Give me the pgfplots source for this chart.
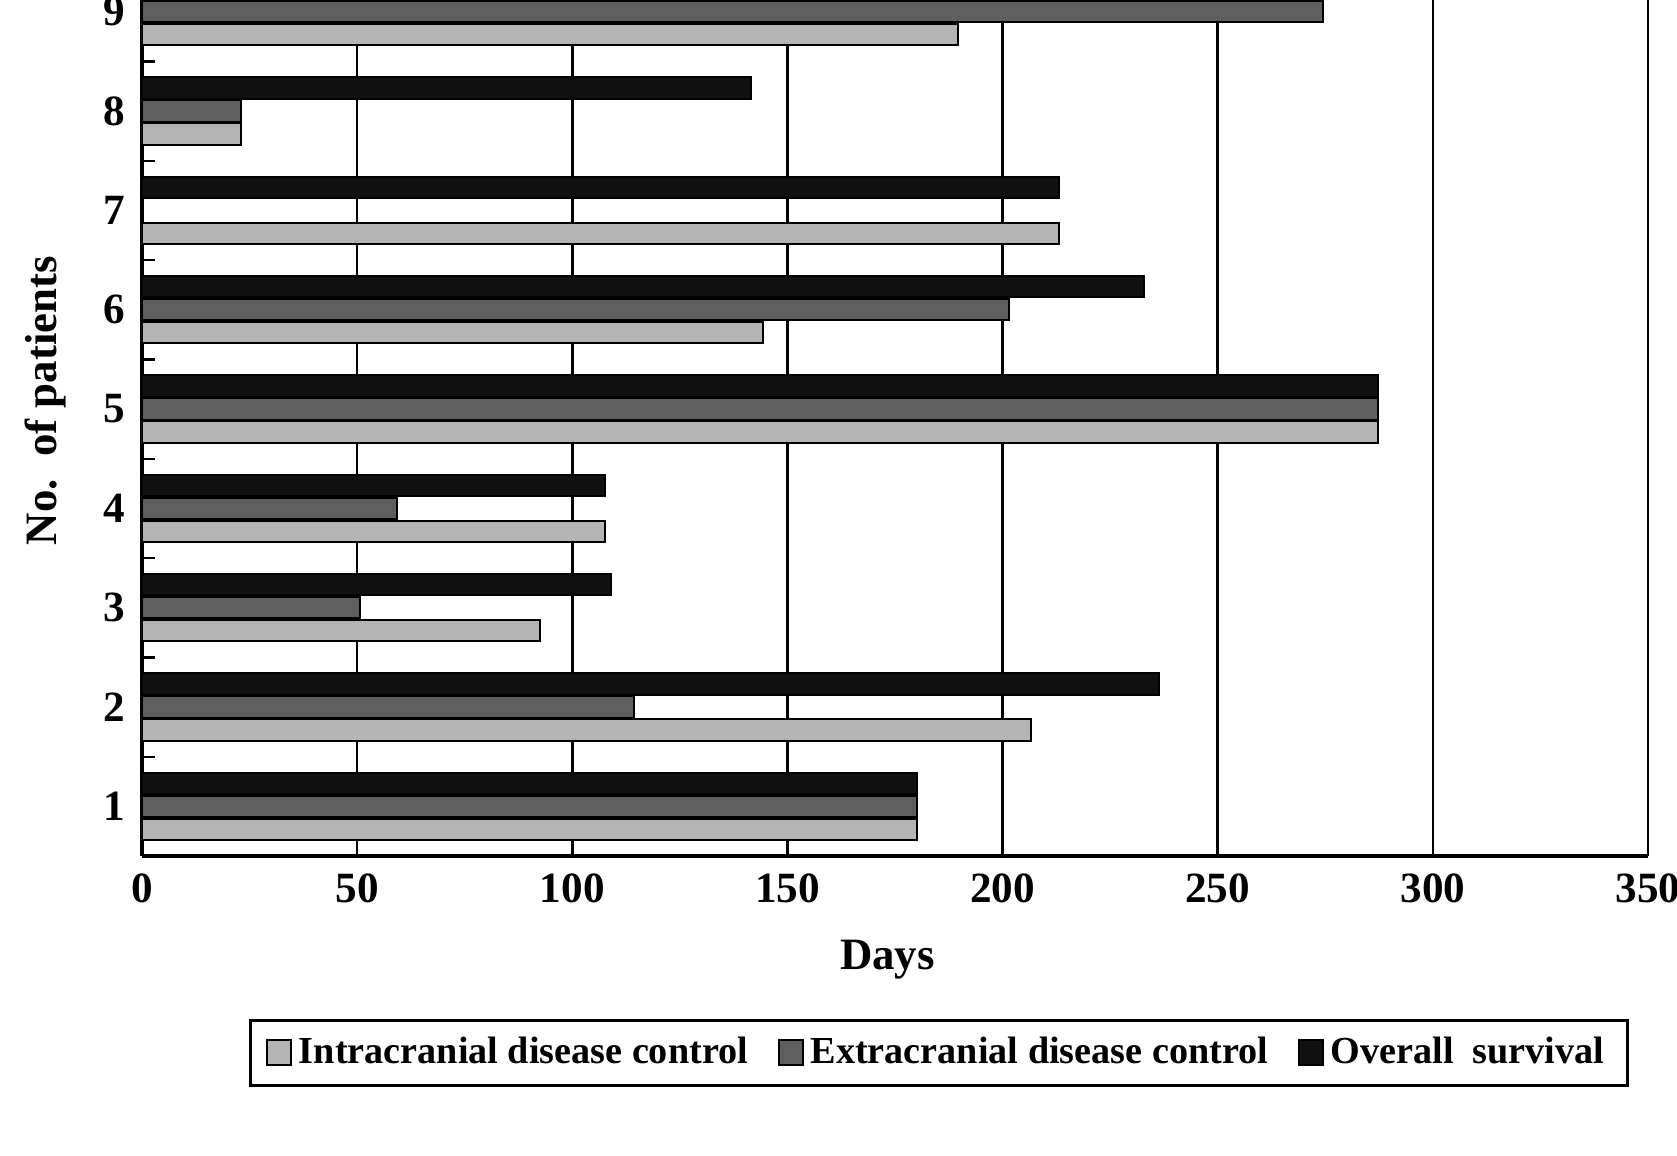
\documentclass[border=0pt]{standalone}
\usepackage{fontspec}
\setmainfont{Liberation Serif}
\usepackage{pgfplots}
\pgfplotsset{compat=1.18}
\definecolor{lightbar}{HTML}{B4B4B4}
\definecolor{darkbar}{HTML}{5E5E5E}
\definecolor{blackbar}{HTML}{111111}
\begin{document}
\begin{tikzpicture}
\useasboundingbox (-42.6bp,-90bp) rectangle (460.5bp,256.8bp);
\begin{axis}[
  at={(0,0)}, anchor=south west,
  width=451.8bp, height=256.8bp, scale only axis,
  xbar, bar width=0.215,
  xmin=0, xmax=350, ymin=0.5, ymax=9.118,
  enlargelimits=false,
  axis lines=left,
  axis line style={-, line width=1bp, black},
  xtick={0,50,...,350},
  ytick={1,...,9},
  minor ytick={1.5,2.5,...,8.5},
  major tick length=0pt,
  minor tick length=3.8bp,
  tick align=inside,
  minor tick style={line width=0.7bp, black},
  xmajorgrids,
  grid style={line width=0.75bp, black},
  /pgf/number format/assume math mode=true,
  ticklabel style={font=\fontsize{13}{13}\selectfont\bfseries},
  xticklabel style={yshift=-1.8bp},
  yticklabel style={xshift=-1.5bp},
  xlabel={Days},
  ylabel={No.\ \ of patients},
  label style={font=\fontsize{13.5}{14}\selectfont\bfseries},
  xlabel style={at={(axis description cs:0.495,-0.1207)}, anchor=center},
  ylabel style={at={(axis description cs:-0.0644,0.532)}, anchor=center},
  legend image code/.code={\draw[#1, line width=0.6bp, draw=black] (0bp,-3.6bp) rectangle (7.2bp,3.8bp);},
  legend style={at={(axis description cs:0.529,-0.230)}, anchor=center,
    legend columns=3, draw=black, line width=0.9bp,
    font=\fontsize{11.5}{12}\selectfont\bfseries,
    inner xsep=4.8bp, inner ysep=3bp,
    /tikz/every even column/.append style={column sep=7bp}},
]
\addplot[fill=lightbar, draw=black, line width=0.6bp, bar shift=-0.232] coordinates {
  (180,1) (206.5,2) (92.5,3) (107.5,4) (287.3,5) (144.3,6) (213,7) (23,8) (189.6,9)};
\addplot[fill=darkbar, draw=black, line width=0.6bp, bar shift=0] coordinates {
  (180,1) (114.4,2) (50.7,3) (59.2,4) (287.3,5) (201.5,6) (23,8) (274.4,9)};
\addplot[fill=blackbar, draw=black, line width=0.6bp, bar shift=0.232] coordinates {
  (180,1) (236.3,2) (109,3) (107.7,4) (287.3,5) (232.8,6) (213,7) (141.5,8) (274.4,9)};
\legend{Intracranial disease control, Extracranial disease control, Overall\ \ survival}
\end{axis}
\end{tikzpicture}
\end{document}
